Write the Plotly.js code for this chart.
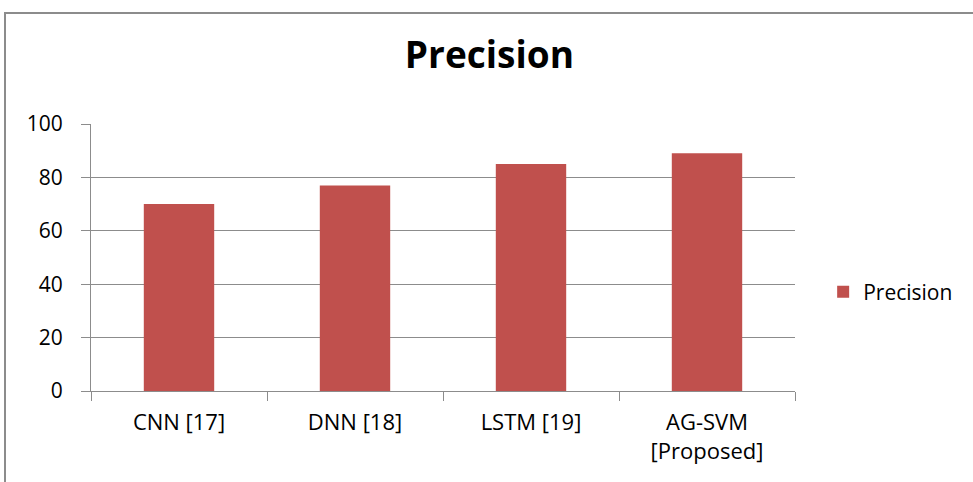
<!DOCTYPE html>
<html>
<head>
<meta charset="utf-8">
<script src="https://cdn.plot.ly/plotly-3.0.1.min.js"></script>
<style>
  html, body { margin: 0; padding: 0; background: #fff; overflow: hidden; }
  #wrap { position: relative; width: 973px; height: 482px; }
  #frame { position: absolute; left: 4px; top: 12px; width: 1200px; height: 600px;
           border-left: 2px solid #8c8c8c; border-top: 2px solid #8c8c8c; box-sizing: border-box; pointer-events: none; }
  #chart { position: absolute; left: 0; top: 0; width: 973px; height: 482px; }
</style>
</head>
<body>
<div id="wrap">
  <div id="chart"></div>
  <div id="frame"></div>
</div>
<script>
const categories = ["CNN [17]", "DNN [18]", "LSTM [19]", "AG-SVM<br>[Proposed]"];
const precision = [70, 77, 85, 89];
const seriesName = "Precision";
const yTicks = [0, 20, 40, 60, 80, 100];

const fontFam = "'Open Sans', 'Liberation Sans', sans-serif";

const data = [{
  type: "bar",
  x: categories,
  y: precision,
  name: seriesName,
  marker: { color: "#C0504D" },
  showlegend: true,
  hoverinfo: "x+y"
}];

const layout = {
  width: 973,
  height: 482,
  margin: { l: 91, r: 178, t: 124, b: 91, pad: 0 },
  paper_bgcolor: "#ffffff",
  plot_bgcolor: "#ffffff",
  bargap: 0.6,
  font: { family: fontFam, color: "#000000", size: 21 },
  title: {
    text: "<b>Precision</b>",
    font: { family: fontFam, size: 37, color: "#000000" },
    x: 0.503, xanchor: "center",
    y: 0.885, yanchor: "middle"
  },
  xaxis: {
    type: "category",
    showgrid: false,
    showline: true,
    linecolor: "#8c8c8c",
    linewidth: 1,
    ticks: "outside",
    tickson: "boundaries",
    ticklen: 9,
    tickcolor: "#8c8c8c",
    tickwidth: 1,
    ticklabelstandoff: 12,
    tickfont: { family: fontFam, size: 22, color: "#000000" },
    zeroline: false
  },
  yaxis: {
    range: [0, 100],
    tickvals: yTicks,
    ticktext: yTicks.map(String),
    showgrid: true,
    gridcolor: "#8c8c8c",
    gridwidth: 1,
    showline: true,
    linecolor: "#8c8c8c",
    linewidth: 1,
    ticks: "outside",
    ticklen: 9,
    tickcolor: "#8c8c8c",
    tickwidth: 1,
    ticklabelstandoff: 14,
    tickfont: { family: fontFam, size: 21, color: "#000000" },
    zeroline: false,
    fixedrange: true
  },
  legend: {
    x: 1.04, xanchor: "left",
    y: 0.37, yanchor: "middle",
    font: { family: fontFam, size: 21, color: "#000000" },
    bgcolor: "rgba(0,0,0,0)",
    itemwidth: 30
  },
  showlegend: true
};

Plotly.newPlot("chart", data, layout, { displayModeBar: false, staticPlot: true });
</script>
</body>
</html>
